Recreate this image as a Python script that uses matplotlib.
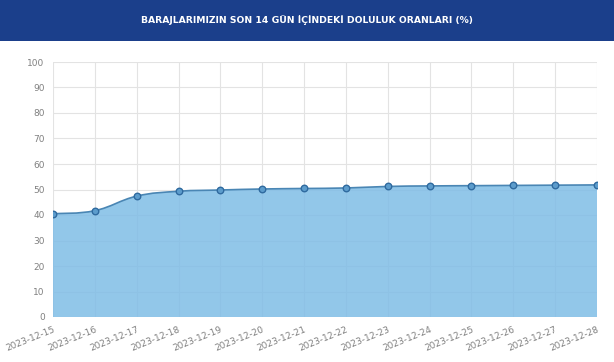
import numpy as np
import matplotlib.pyplot as plt
from matplotlib.path import Path
from matplotlib.patches import PathPatch

dates = ["2023-12-15", "2023-12-16", "2023-12-17", "2023-12-18", "2023-12-19",
         "2023-12-20", "2023-12-21", "2023-12-22", "2023-12-23", "2023-12-24",
         "2023-12-25", "2023-12-26", "2023-12-27", "2023-12-28"]
levels = [40.5, 41.7, 47.4, 49.3, 49.8, 50.2, 50.4, 50.6, 51.2, 51.4,
          51.5, 51.6, 51.7, 51.8]
title = "BARAJLARIMIZIN SON 14 GÜN İÇİNDEKİ DOLULUK ORANLARI (%)"


def smooth_path(x, y, tension=0.4):
    # Chart.js style bezier through the points
    verts = [(x[0], y[0])]
    codes = [Path.MOVETO]
    n = len(x)
    for i in range(n - 1):
        xp, yp = (x[i - 1], y[i - 1]) if i > 0 else (x[i], y[i])
        xn2, yn2 = (x[i + 2], y[i + 2]) if i + 2 < n else (x[i + 1], y[i + 1])
        c1 = (x[i] + tension * (x[i + 1] - xp) / 2, y[i] + tension * (y[i + 1] - yp) / 2)
        c2 = (x[i + 1] - tension * (xn2 - x[i]) / 2, y[i + 1] - tension * (yn2 - y[i]) / 2)
        verts += [c1, c2, (x[i + 1], y[i + 1])]
        codes += [Path.CURVE4] * 3
    return verts, codes


fig = plt.figure(figsize=(6.14, 3.62), dpi=100)
fig.patch.set_facecolor("white")

banner = fig.add_axes([0, 1 - 41 / 362, 1, 41 / 362])
banner.set_facecolor("#1b3f8b")
banner.set_xticks([])
banner.set_yticks([])
for s in banner.spines.values():
    s.set_visible(False)
banner.text(0.5, 0.5, title, color="white", fontsize=6.7, fontweight="bold",
            ha="center", va="center", transform=banner.transAxes)

ax = fig.add_axes([53 / 614, 1 - 317 / 362, 544 / 614, 255 / 362])
x = np.arange(len(dates))
verts, codes = smooth_path(x, levels)

fill_verts = verts + [(x[-1], 0), (x[0], 0), verts[0]]
fill_codes = codes + [Path.LINETO, Path.LINETO, Path.CLOSEPOLY]
ax.add_patch(PathPatch(Path(fill_verts, fill_codes), facecolor="#7fbde6",
                       alpha=0.85, edgecolor="none", zorder=2))
ax.add_patch(PathPatch(Path(verts, codes), facecolor="none",
                       edgecolor="#4a86b4", lw=1.2, zorder=3))
ax.scatter(x, levels, s=22, color="#5c9ccc", edgecolor="#2f6a9f",
           linewidth=1, zorder=4)

ax.set_xlim(x[0], x[-1])
ax.set_ylim(0, 100)
ax.set_yticks(range(0, 101, 10))
ax.set_xticks(x)
ax.set_xticklabels(dates, rotation=22, ha="right", rotation_mode="anchor")
ax.tick_params(length=0, labelsize=6.5, labelcolor="#808080", pad=6)
ax.grid(color="#e3e3e3", linewidth=0.8, zorder=1)
ax.set_axisbelow(True)
for s in ax.spines.values():
    s.set_visible(False)

fig.savefig("out.png", dpi=100)
